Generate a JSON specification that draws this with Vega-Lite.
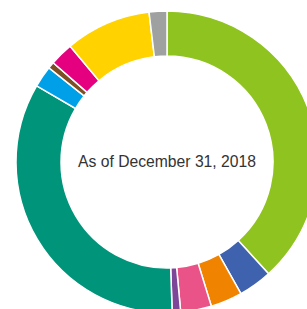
{
  "$schema": "https://vega.github.io/schema/vega-lite/v6.json",
  "width": 334,
  "height": 324,
  "autosize": "none",
  "padding": 0,
  "background": "white",
  "view": {"stroke": null},
  "data": {"values": [
    {"i": 1, "category": "Segment 1", "share": 38.3},
    {"i": 2, "category": "Segment 2", "share": 3.6},
    {"i": 3, "category": "Segment 3", "share": 3.4},
    {"i": 4, "category": "Segment 4", "share": 3.3},
    {"i": 5, "category": "Segment 5", "share": 0.9},
    {"i": 6, "category": "Segment 6", "share": 34.0},
    {"i": 7, "category": "Segment 7", "share": 2.3},
    {"i": 8, "category": "Segment 8", "share": 0.7},
    {"i": 9, "category": "Segment 9", "share": 2.5},
    {"i": 10, "category": "Segment 10", "share": 9.2},
    {"i": 11, "category": "Segment 11", "share": 1.9}
  ]},
  "layer": [
    {
      "mark": {"type": "arc", "outerRadius": 151, "innerRadius": 106, "stroke": "white", "strokeWidth": 1.5},
      "encoding": {
        "theta": {"field": "share", "type": "quantitative", "stack": true},
        "order": {"field": "i", "type": "quantitative"},
        "color": {
          "field": "category", "type": "nominal", "legend": null,
          "scale": {
            "domain": ["Segment 1","Segment 2","Segment 3","Segment 4","Segment 5","Segment 6","Segment 7","Segment 8","Segment 9","Segment 10","Segment 11"],
            "range": ["#8FC31F","#3E62AD","#F08300","#E95388","#7D4698","#00947A","#00A0E9","#7E4E24","#E4007F","#FFD200","#9FA0A0"]
          }
        }
      }
    },
    {
      "data": {"values": [{"label": "As of December 31, 2018"}]},
      "mark": {"type": "text", "align": "center", "baseline": "middle", "font": "Liberation Sans", "fontSize": 15.7, "color": "#333333"},
      "encoding": {"text": {"field": "label"}}
    }
  ]
}
